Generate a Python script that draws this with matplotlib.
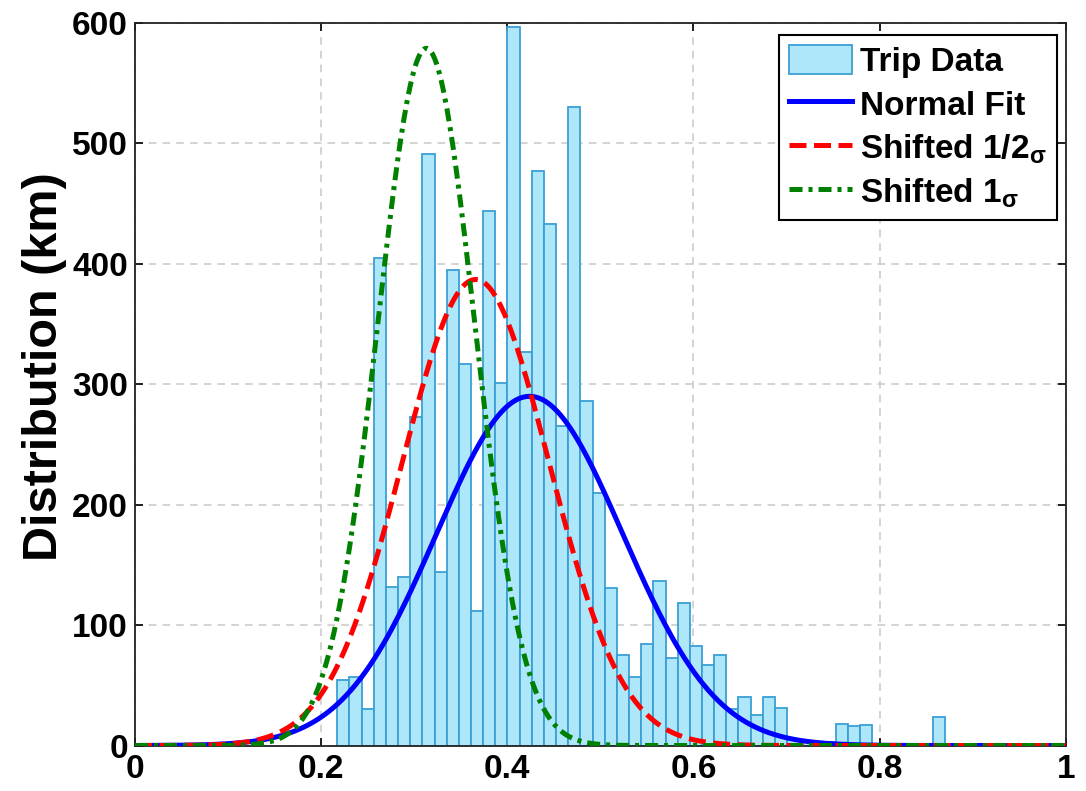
import numpy as np
import matplotlib
matplotlib.use("Agg")
import matplotlib.pyplot as plt

plt.rcParams['font.family'] = ['Liberation Sans', 'DejaVu Sans']
plt.rcParams['font.weight'] = 'bold'
plt.rcParams['mathtext.fontset'] = 'custom'
plt.rcParams['mathtext.rm'] = 'Liberation Sans'
plt.rcParams['mathtext.bf'] = 'Liberation Sans:bold'
plt.rcParams['mathtext.it'] = 'Liberation Sans:italic'

# ---- data ----
bin_lo = 0.2174
bin_hi = 0.8704
trip_counts = [54, 57, 30, 405, 132, 140, 273, 491, 144, 395,
               317, 112, 444, 301, 597, 327, 477, 433, 265, 530,
               286, 210, 131, 75, 57, 84, 137, 73, 118, 83,
               67, 75, 30, 40, 25, 40, 31, 5, 4, 2,
               3, 18, 16, 17, 0, 0, 0, 0, 0, 24]

# fitted curves: (mean, sigma, peak height)
normal_fit = (0.424, 0.100, 290)
shifted_half = (0.366, 0.079, 387)
shifted_one = (0.313, 0.052, 579)

x_ticks = [0, 0.2, 0.4, 0.6, 0.8, 1]
x_ticklabels = ['0', '0.2', '0.4', '0.6', '0.8', '1']
y_ticks = [0, 100, 200, 300, 400, 500, 600]
legend_labels = ['Trip Data', 'Normal Fit', 'Shifted 1/2$_{\\mathregular{σ}}$', 'Shifted 1$_{\\mathregular{σ}}$']


def gauss(x, params):
    m, s, h = params
    return h * np.exp(-(x - m) ** 2 / (2 * s ** 2))


fig = plt.figure(figsize=(10.86, 7.91), dpi=100)
ax = fig.add_axes([0.1243, 0.0575, 0.8570, 0.9134])

n = len(trip_counts)
edges = np.linspace(bin_lo, bin_hi, n + 1)
bars = ax.bar(edges[:-1], trip_counts, width=edges[1] - edges[0], align='edge',
              facecolor='#aee7fa', edgecolor='#3a9fd5', linewidth=1.3,
              label=legend_labels[0], zorder=2)

xs = np.linspace(0, 1, 600)
l1, = ax.plot(xs, gauss(xs, normal_fit), color='#0000ff', lw=3.6,
              label=legend_labels[1], zorder=3)
l2, = ax.plot(xs, gauss(xs, shifted_half), color='#ff0000', lw=3.6,
              dashes=(3.4, 1.5), label=legend_labels[2], zorder=4)
l3, = ax.plot(xs, gauss(xs, shifted_one), color='#008000', lw=3.6,
              dashes=(2.6, 1.2, 0.8, 1.2), label=legend_labels[3], zorder=5)

ax.set_xlim(0, 1)
ax.set_ylim(0, 600)
ax.set_xticks(x_ticks)
ax.set_xticklabels(x_ticklabels)
ax.set_yticks(y_ticks)
ax.tick_params(axis='both', which='both', direction='in', length=6,
               width=1.2, top=True, right=True, labelsize=24)
ax.tick_params(axis='y', pad=5)
ax.tick_params(axis='x', pad=6)
for lab in ax.get_xticklabels() + ax.get_yticklabels():
    lab.set_fontweight('bold')
for sp in ax.spines.values():
    sp.set_linewidth(1.3)
    sp.set_color('#222222')

ax.set_axisbelow(True)
ax.grid(True, color='#c8c8c8', linestyle=(0, (5, 4)), linewidth=1.1)

ax.set_ylabel('Distribution (km)', fontsize=35, fontweight='bold')
ax.yaxis.set_label_coords(-0.073, 0.525)

leg = ax.legend([bars, l1, l2, l3], legend_labels,
                loc='upper right', bbox_to_anchor=(0.9905, 0.984),
                fontsize=24, frameon=True, fancybox=False, framealpha=1,
                edgecolor='black', handlelength=1.9, handleheight=1.0,
                handletextpad=0.25, labelspacing=0.31, borderpad=0.3,
                borderaxespad=0.0)
leg.get_frame().set_linewidth(1.5)
for t in leg.get_texts():
    t.set_fontweight('bold')

fig.savefig('out.png', dpi=100)
